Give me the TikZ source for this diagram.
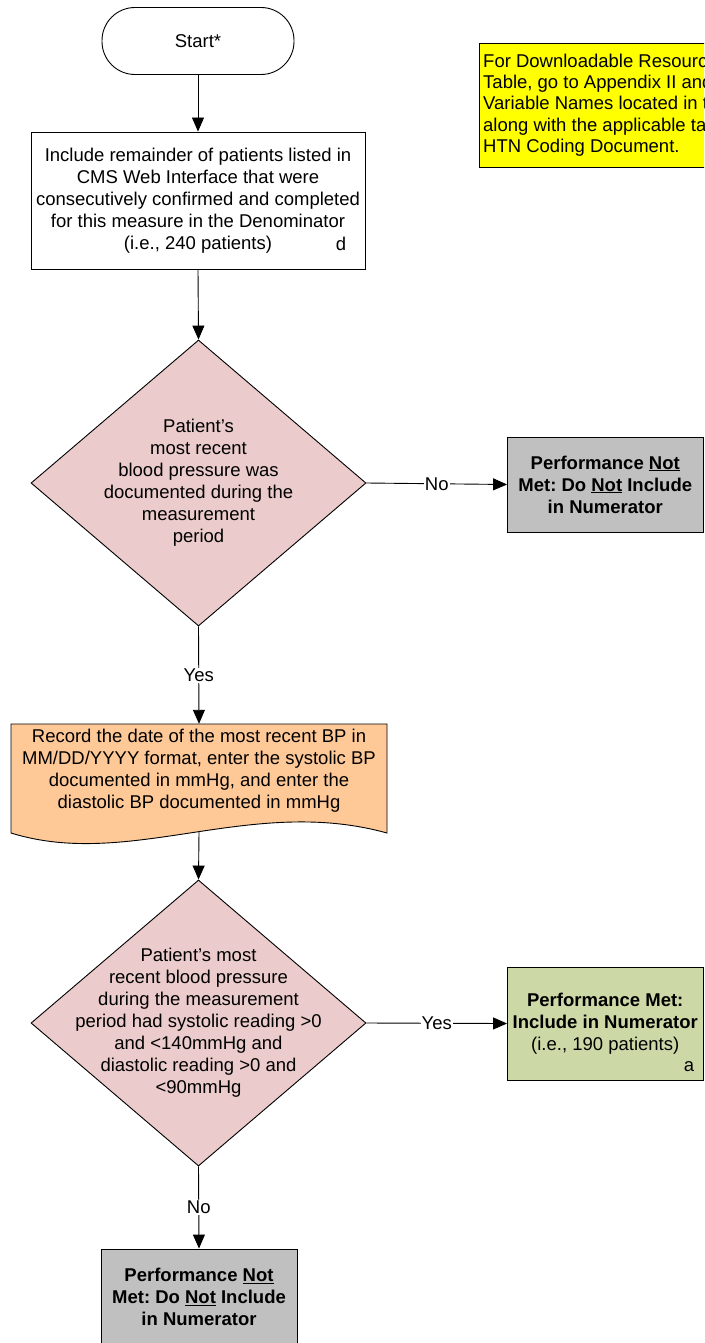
\documentclass[tikz,border=0pt]{standalone}
\usepackage{fontspec}
\setmainfont{Liberation Sans}
\usetikzlibrary{arrows.meta,shapes.geometric}
\definecolor{pinkd}{HTML}{EBCBCB}
\definecolor{grayb}{HTML}{C0C0C0}
\definecolor{greenb}{HTML}{CCD9A6}
\definecolor{orangeb}{HTML}{FFC997}
\definecolor{yellowb}{HTML}{FFFF00}
\frenchspacing
\tikzset{
  txt/.style={font=\fontsize{18.5}{22}\selectfont, align=center, inner sep=0pt},
  startbox/.style={draw, line width=0.9pt, rounded corners=33pt, minimum width=192pt, minimum height=67pt, txt},
  procbox/.style={draw, line width=0.9pt, fill=white, txt},
  dia/.style={shape=diamond, draw, line width=0.9pt, fill=pinkd, minimum width=335pt, minimum height=286pt, inner sep=0pt},
  outbox/.style={draw, line width=0.9pt, minimum width=195.5pt, txt},
  conn/.style={line width=0.9pt, -{Triangle[length=14pt,width=12pt]}},
  lbl/.style={midway, fill=white, font=\fontsize{18.5}{22}\selectfont, inner sep=1pt},
}
\begin{document}
\begin{tikzpicture}[x=1pt,y=-1pt]
\useasboundingbox (0,0) rectangle (704,1343);
\clip (0,0) rectangle (704,1343);
\fill[white] (0,0) rectangle (704,1343);

% start
\node[startbox] (start) at (198,41) {Start*};

% note
\draw[line width=0.9pt, fill=yellowb] (479,43) rectangle (720,167);
\node[anchor=west, font=\fontsize{18.5}{21.25}\selectfont, align=left, inner sep=0pt] (note) at (483,105)
  {For Downloadable Resource\\Table, go to Appendix II and\\Variable Names located in the\\along with the applicable tabs\\HTN Coding Document.};

% box 1
\node[procbox, minimum width=334pt, minimum height=137pt] (box1) at (198,200.5)
  {Include remainder of patients listed in\\CMS Web Interface that were\\consecutively confirmed and completed\\for this measure in the Denominator\\(i.e., 240 patients)};
\node[txt] (dl) at (341,244) {d};

% diamond 1
\node[dia] (d1) at (198.5,483) {};
\node[txt] (d1t) at (d1.center) {Patient’s\\most recent\\blood pressure was\\documented during the\\measurement\\period};

% gray box 1
\node[outbox, fill=grayb, minimum height=95pt, font=\fontsize{18.5}{22}\selectfont\bfseries] (g1) at (605.25,484.5)
  {Performance \underline{Not}\\Met: Do \underline{Not} Include\\in Numerator};

% document shape
\draw[line width=0.9pt, fill=orangeb] (11,724) -- (387,724) -- (387,833) .. controls (250,795) and (130,870) .. (11,833) -- cycle;
\node[inner sep=0pt, minimum width=376pt, minimum height=109pt] (doc) at (199,778.5) {};
\node[txt] (doct) at (199,770.5) {Record the date of the most recent BP in\\MM/DD/YYYY format, enter the systolic BP\\documented in mmHg, and enter the\\diastolic BP documented in mmHg};
\coordinate (docb) at (199,832);

% diamond 2
\node[dia] (d2) at (198.5,1023) {};
\node[txt] (d2t) at (d2.center) {Patient’s most\\recent blood pressure\\during the measurement\\period had systolic reading >0\\and <140mmHg and\\diastolic reading >0 and\\<90mmHg};

% green box
\node[outbox, fill=greenb, minimum height=113pt] (gr) at (605.25,1023.5)
  {\textbf{Performance Met:}\\\textbf{Include in Numerator}\\(i.e., 190 patients)};
\node[txt] (al) at (689,1067) {a};

% gray box 2
\node[outbox, fill=grayb, minimum width=196pt, minimum height=96pt, font=\fontsize{18.5}{22}\selectfont\bfseries] (g2) at (199,1297)
  {Performance \underline{Not}\\Met: Do \underline{Not} Include\\in Numerator};

% connectors
\draw[conn] (start.south) -- (box1.north);
\draw[conn] (box1.south) -- (d1.north);
\draw[conn] (d1.east) -- node[lbl] {No} (g1.west);
\draw[conn] (d1.south) -- node[lbl] {Yes} (doc.north);
\draw[conn] (docb) -- (d2.north);
\draw[conn] (d2.east) -- node[lbl] {Yes} (gr.west);
\draw[conn] (d2.south) -- node[lbl] {No} (g2.north);
\end{tikzpicture}
\end{document}
